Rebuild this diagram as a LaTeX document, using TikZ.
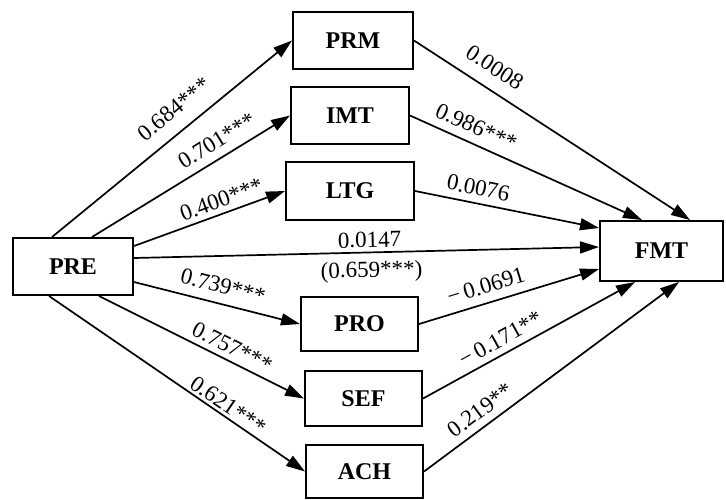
\documentclass[tikz,border=0pt]{standalone}
\usepackage{fontspec}
\setmainfont{Liberation Serif}
\usetikzlibrary{arrows.meta,calc}
\begin{document}
\begin{tikzpicture}[x=0.5pt,y=-0.5pt,
  box/.style={draw,line width=1pt,fill=white,inner sep=0pt,font=\fontsize{12}{14}\selectfont\bfseries},
  conn/.style={line width=0.85pt,-{Triangle[length=9.5pt,width=6pt]}},
  lab/.style={font=\fontsize{11.5}{13}\selectfont,sloped,anchor=south,inner xsep=0pt},
  labb/.style={font=\fontsize{11.5}{13}\selectfont,sloped,anchor=north,inner xsep=0pt}]
\useasboundingbox (0,0) rectangle (726,499);
% nodes
\node[box,minimum width=60pt,minimum height=28.5pt] (PRE) at (73,266.5) {PRE};
\node[box,minimum width=60pt,minimum height=28.5pt] (PRM) at (353,40.5) {PRM};
\node[box,minimum width=59pt,minimum height=28.5pt] (IMT) at (350,115.5) {IMT};
\node[box,minimum width=64pt,minimum height=29pt] (LTG) at (350,191) {LTG};
\node[box,minimum width=61.5pt,minimum height=30pt] (FMT) at (661.5,251) {FMT};
\node[box,minimum width=58.5pt,minimum height=27pt] (PRO) at (359.5,324) {PRO};
\node[box,minimum width=58.5pt,minimum height=27.5pt] (SEF) at (363.5,398.5) {SEF};
\node[box,minimum width=58.5pt,minimum height=26.5pt] (ACH) at (364.5,471.5) {ACH};
% PRE -> mediators
\draw[conn] ($(PRE.north west)+(40,0)$) -- node[lab,pos=0.566,inner ysep=6.5pt]{0.684***} (PRM.west);
\draw[conn] ($(PRE.north west)+(80,0)$) -- node[lab,pos=0.675,inner ysep=4.2pt]{0.701***} (IMT.west);
\draw[conn] ($(PRE.north east)+(0,9)$) -- node[lab,pos=0.61,inner ysep=2.6pt]{0.400***} (LTG.west);
\draw[conn] ($(PRE.east)+(0,-8.5)$) -- node[lab,pos=0.507,inner ysep=2pt]{0.0147}
   node[labb,pos=0.51,inner ysep=4pt]{(0.659***)} ($(FMT.west)+(0,-4)$);
\draw[conn] ($(PRE.east)+(0,15.5)$) -- node[lab,pos=0.51,inner ysep=4.6pt]{0.739***} (PRO.west);
\draw[conn] ($(PRE.south west)+(87,0)$) -- node[lab,pos=0.62,inner ysep=2.6pt]{0.757***} (SEF.west);
\draw[conn] ($(PRE.south west)+(37,0)$) -- node[lab,pos=0.675,inner ysep=1.2pt]{0.621***} (ACH.west);
% mediators -> FMT
\draw[conn] (PRM.east) -- node[lab,pos=0.25,inner ysep=6.4pt]{0.0008} ($(FMT.north west)+(91,0)$);
\draw[conn] (IMT.east) -- node[lab,pos=0.256,inner ysep=4pt]{0.986***} ($(FMT.north west)+(43,0)$);
\draw[conn] (LTG.east) -- node[lab,pos=0.327,inner ysep=3.5pt]{0.0076} ($(FMT.north west)+(0,8)$);
\draw[conn] (PRO.east) -- node[lab,pos=0.4,inner ysep=4.2pt]{−\,0.0691} ($(FMT.south west)+(0,-13)$);
\draw[conn] (SEF.east) -- node[lab,pos=0.399,inner ysep=3.2pt]{−\,0.171**} ($(FMT.south west)+(36,0)$);
\draw[conn] (ACH.east) -- node[lab,pos=0.258,inner ysep=3.6pt]{0.219**} ($(FMT.south west)+(80,0)$);
\end{tikzpicture}
\end{document}
